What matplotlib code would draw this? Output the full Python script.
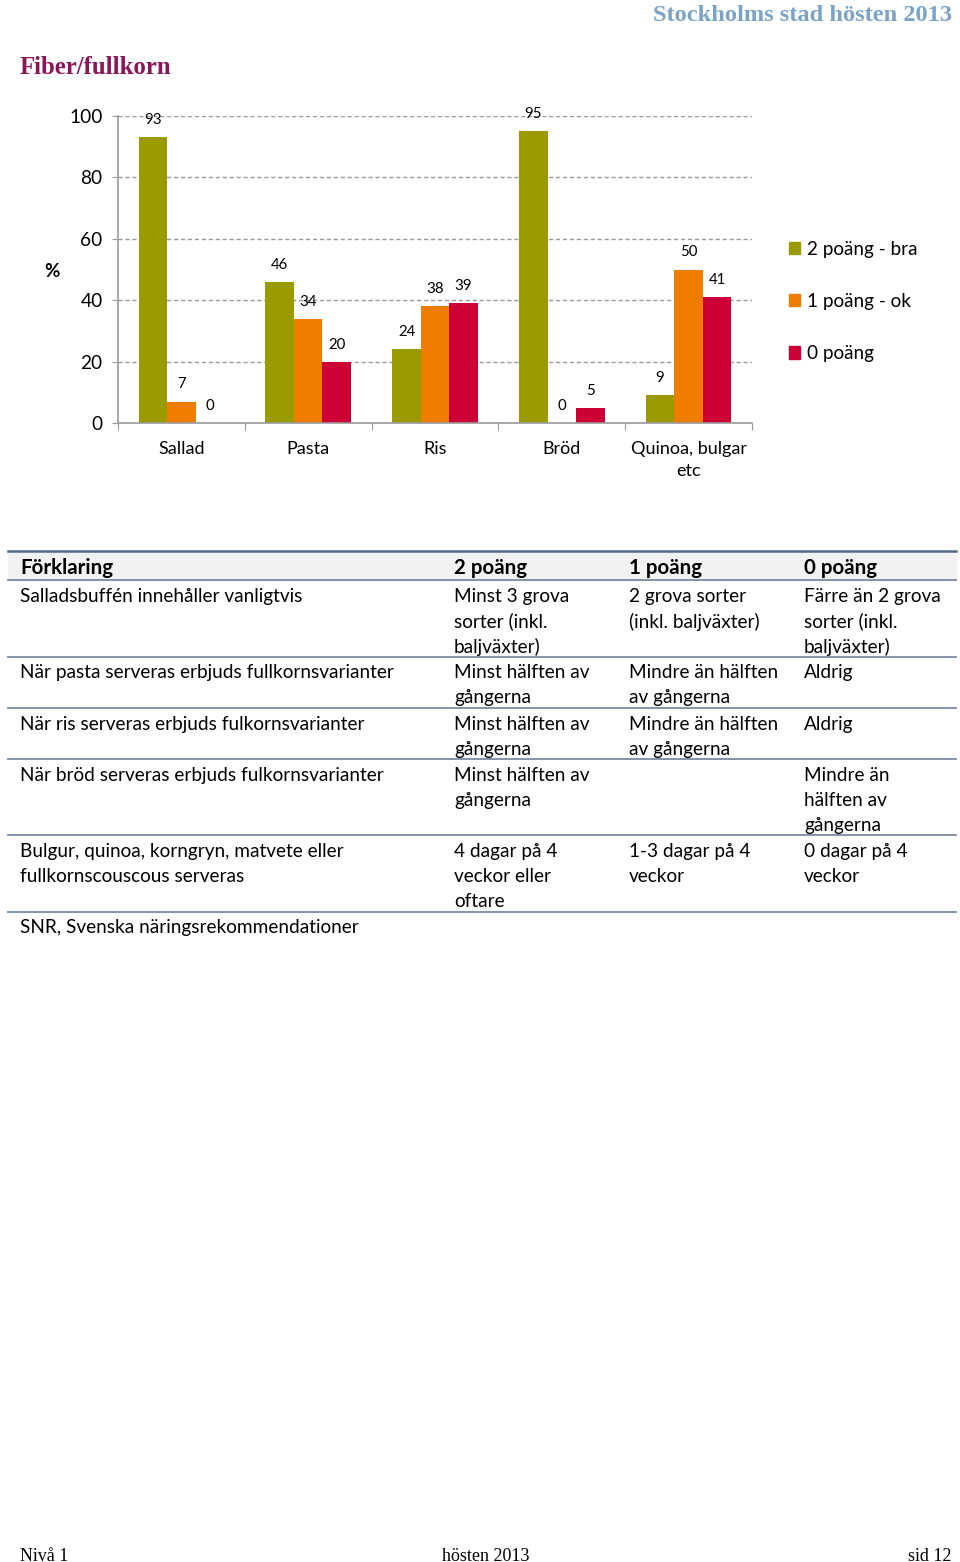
import matplotlib
matplotlib.use("Agg")
import matplotlib.pyplot as plt
from matplotlib.lines import Line2D
from matplotlib.patches import Rectangle
import numpy as np

# data
categories = ["Sallad", "Pasta", "Ris", "Bröd", "Quinoa, bulgar\netc"]
series_names = ["2 poäng - bra", "1 poäng - ok", "0 poäng"]
two_points = [93, 46, 24, 95, 9]
one_point = [7, 34, 38, 0, 50]
zero_points = [0, 20, 39, 5, 41]
colors = ["#9a9b00", "#f07d00", "#cc0035"]

# explanation table
table_header = ["Förklaring", "2 poäng", "1 poäng", "0 poäng"]
table_rows = [
    ["Salladsbuffén innehåller vanligtvis", "Minst 3 grova\nsorter (inkl.\nbaljväxter)",
     "2 grova sorter\n(inkl. baljväxter)", "Färre än 2 grova\nsorter (inkl.\nbaljväxter)"],
    ["När pasta serveras erbjuds fullkornsvarianter", "Minst hälften av\ngångerna",
     "Mindre än hälften\nav gångerna", "Aldrig"],
    ["När ris serveras erbjuds fulkornsvarianter", "Minst hälften av\ngångerna",
     "Mindre än hälften\nav gångerna", "Aldrig"],
    ["När bröd serveras erbjuds fulkornsvarianter", "Minst hälften av\ngångerna",
     "", "Mindre än\nhälften av\ngångerna"],
    ["Bulgur, quinoa, korngryn, matvete eller\nfullkornscouscous serveras",
     "4 dagar på 4\nveckor eller\noftare", "1-3 dagar på 4\nveckor", "0 dagar på 4\nveckor"],
]
table_note = "SNR, Svenska näringsrekommendationer"

W, H = 960, 1562
fig = plt.figure(figsize=(W / 100, H / 100), dpi=100)
plt.rcParams["font.family"] = ["Lato", "DejaVu Sans"]


def fy(y, shift=2.5):
    # pixel row -> figure fraction (small shift for text centres)
    return 1 - (y + shift) / H


def fl(y):
    return 1 - y / H


def fx(x):
    return x / W


# page header / title
fig.text(fx(952), fy(13), "Stockholms stad hösten 2013", ha="right", va="center",
         family="Liberation Serif", fontsize=17.6, fontweight="bold", color="#7aa3c8")
fig.text(fx(20), fy(65), "Fiber/fullkorn", ha="left", va="center",
         family="Liberation Serif", fontsize=17.8, fontweight="bold", color="#8c1459")

# chart
ax = fig.add_axes([fx(118), fl(423), fx(752) - fx(118), (423 - 116) / H])
x = np.arange(len(categories))
bw = 0.225
for i, vals in enumerate([two_points, one_point, zero_points]):
    bars = ax.bar(x + (i - 1) * bw, vals, bw, color=colors[i], label=series_names[i], zorder=2)
    for b, v in zip(bars, vals):
        ax.annotate(str(v), (b.get_x() + b.get_width() / 2, v), xytext=(0, 12.3),
                    textcoords="offset points", ha="center", va="center", fontsize=10.8)

ax.set_xlim(-0.5, len(categories) - 0.5)
ax.set_ylim(0, 100)
ax.set_yticks([0, 20, 40, 60, 80, 100])
ax.yaxis.grid(True, linestyle=(0, (3, 2)), color="#999999", linewidth=1, zorder=0)
ax.set_axisbelow(True)
for s in ["top", "right"]:
    ax.spines[s].set_visible(False)
for s in ["left", "bottom"]:
    ax.spines[s].set_color("#999999")
    ax.spines[s].set_linewidth(1.2)
ax.tick_params(axis="y", length=4, color="#999999", labelsize=13.8, pad=7)
ax.set_xticks(np.arange(-0.5, len(categories), 1))
ax.set_xticklabels([])
ax.tick_params(axis="x", length=5, color="#999999", direction="out")
for i, c in enumerate(categories):
    ax.text(i, -6, c, ha="center", va="top", fontsize=13, linespacing=1.45,
            transform=ax.transData)
ax.set_ylabel("%", rotation=0, fontsize=13.5, fontweight="bold", va="center")
ax.yaxis.set_label_coords(-0.104, 0.495)

handles = [Rectangle((0, 0), 1, 1, color=c) for c in colors]
fig.legend(handles, series_names, loc="upper left", bbox_to_anchor=(fx(781), fl(233)),
           frameon=False, fontsize=13.6, handlelength=0.62, handleheight=0.62,
           handletextpad=0.35, labelspacing=1.87, borderaxespad=0)

# table
col_x = [20, 454, 629, 804]
line_color = "#7b8aa3"
fig.add_artist(Rectangle((fx(8), fl(580)), fx(956) - fx(8), (580 - 551) / H,
                         transform=fig.transFigure, color="#f2f2f2", zorder=0))
fig.add_artist(Line2D([fx(8), fx(956)], [fl(551), fl(551)], color="#556a8a", lw=1.8))
fig.add_artist(Line2D([fx(8), fx(956)], [fl(580), fl(580)], color=line_color, lw=1.3))
for cx, t in zip(col_x, table_header):
    fig.text(fx(cx), fy(566), t, ha="left", va="center", fontsize=14.8, fontweight="bold")

line_h = 25
y0 = 594
for row in table_rows:
    nlines = max(r.count("\n") + 1 for r in row)
    for cx, t in zip(col_x, row):
        for k, part in enumerate(t.split("\n")):
            fig.text(fx(cx), fy(y0 + k * line_h), part, ha="left", va="center", fontsize=13.7)
    yl = y0 + (nlines - 1) * line_h + 12.5
    fig.add_artist(Line2D([fx(8), fx(956)], [fl(yl), fl(yl)], color=line_color, lw=1.3))
    y0 = yl + 13.8
fig.text(fx(20), fy(y0), table_note, ha="left", va="center", fontsize=13.7)

# footer
fig.text(fx(20), fy(1554), "Nivå 1", ha="left", va="center", family="Liberation Serif", fontsize=13)
fig.text(fx(486), fy(1554), "hösten 2013", ha="center", va="center", family="Liberation Serif", fontsize=13)
fig.text(fx(952), fy(1554), "sid 12", ha="right", va="center", family="Liberation Serif", fontsize=13)

fig.savefig("out.png", dpi=100)
